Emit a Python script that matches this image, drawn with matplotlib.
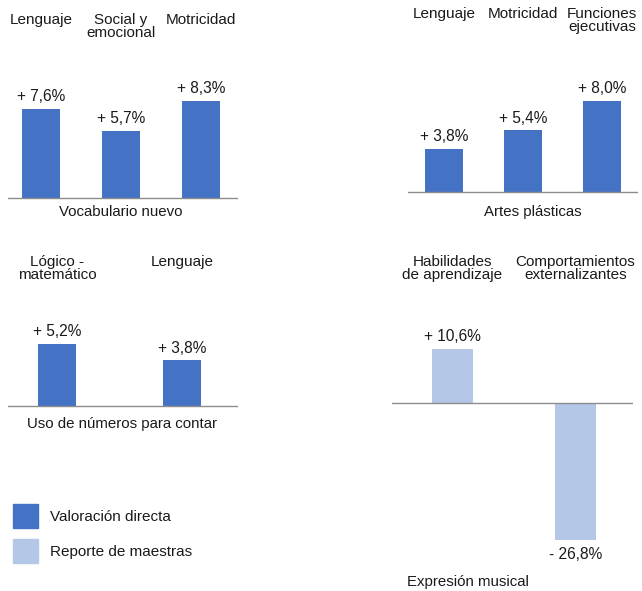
import matplotlib.pyplot as plt
from matplotlib.patches import Patch

plt.rcParams['font.family'] = ['Liberation Sans', 'DejaVu Sans']
plt.rcParams['font.size'] = 11

# data
vocab_cats = ['Lenguaje', 'Social y\nemocional', 'Motricidad']
vocab_vals = [7.6, 5.7, 8.3]
artes_cats = ['Lenguaje', 'Motricidad', 'Funciones\nejecutivas']
artes_vals = [3.8, 5.4, 8.0]
numeros_cats = ['Lógico -\nmatemático', 'Lenguaje']
numeros_vals = [5.2, 3.8]
musical_cats = ['Habilidades\nde aprendizaje', 'Comportamientos\nexternalizantes']
musical_vals = [10.6, -26.8]

DARK = '#4472C4'
LIGHT = '#B4C7E7'
TXT = '#1a1a1a'
W, H = 642, 591

fig = plt.figure(figsize=(W / 100, H / 100), dpi=100)


def fmt(v):
    s = ('%.1f' % abs(v)).replace('.', ',')
    return ('+ ' if v >= 0 else '- ') + s + '%'


def panel(cats, vals, color, x0, x1, first, step, width, base, scale,
          top, bottom, label_top, title, title_x, title_y):
    # axes rect in pixels: x0..x1 horizontally, top..bottom vertically
    ax = fig.add_axes([x0 / W, 1 - bottom / H, (x1 - x0) / W, (bottom - top) / H])
    ax.set_xlim(-(first - x0) / step, (x1 - first) / step)
    ax.set_ylim(-(bottom - base) / scale, (base - top) / scale)
    ax.axis('off')
    ax.axhline(0, color='#8c8c8c', lw=1.0)
    xs = list(range(len(vals)))
    ax.bar(xs, vals, width=width / step, color=color)
    for x, v, c in zip(xs, vals, cats):
        if v >= 0:
            ax.annotate(fmt(v), (x, v), xytext=(0, 3.5), textcoords='offset points',
                        ha='center', va='bottom', color=TXT, fontsize=11.2)
        else:
            ax.annotate(fmt(v), (x, v), xytext=(0, -5), textcoords='offset points',
                        ha='center', va='top', color=TXT, fontsize=11.2)
        xf = (first + x * step) / W
        fig.text(xf, 1 - label_top / H, c, ha='center', va='top',
                 linespacing=0.95, color=TXT, fontsize=11)
    fig.text(title_x / W, 1 - title_y / H, title, ha='center', va='center',
             color=TXT, fontsize=10.8)
    return ax


panel(vocab_cats, vocab_vals, DARK, 8, 238, 41, 80, 38, 198, 11.7,
      60, 200, 13, 'Vocabulario nuevo', 121, 212)
panel(artes_cats, artes_vals, DARK, 408, 638, 444, 79, 38, 192, 11.4,
      60, 194, 7, 'Artes plásticas', 533, 212)
panel(numeros_cats, numeros_vals, DARK, 8, 238, 57, 125, 38, 406, 12.0,
      300, 408, 255, 'Uso de números para contar', 122, 424)
panel(musical_cats, musical_vals, LIGHT, 392, 633, 452.5, 123, 41, 403, 5.1,
      300, 560, 255, 'Expresión musical', 468, 582)

handles = [Patch(color=DARK), Patch(color=LIGHT)]
fig.legend(handles, ['Valoración directa', 'Reporte de maestras'],
           loc='upper left', bbox_to_anchor=(13 / W, 1 - 504 / H),
           frameon=False, borderpad=0, borderaxespad=0,
           handlelength=1.63, handleheight=2.05, labelspacing=0.69,
           handletextpad=0.78, fontsize=11, labelcolor=TXT)

fig.savefig('out.png', dpi=100)
